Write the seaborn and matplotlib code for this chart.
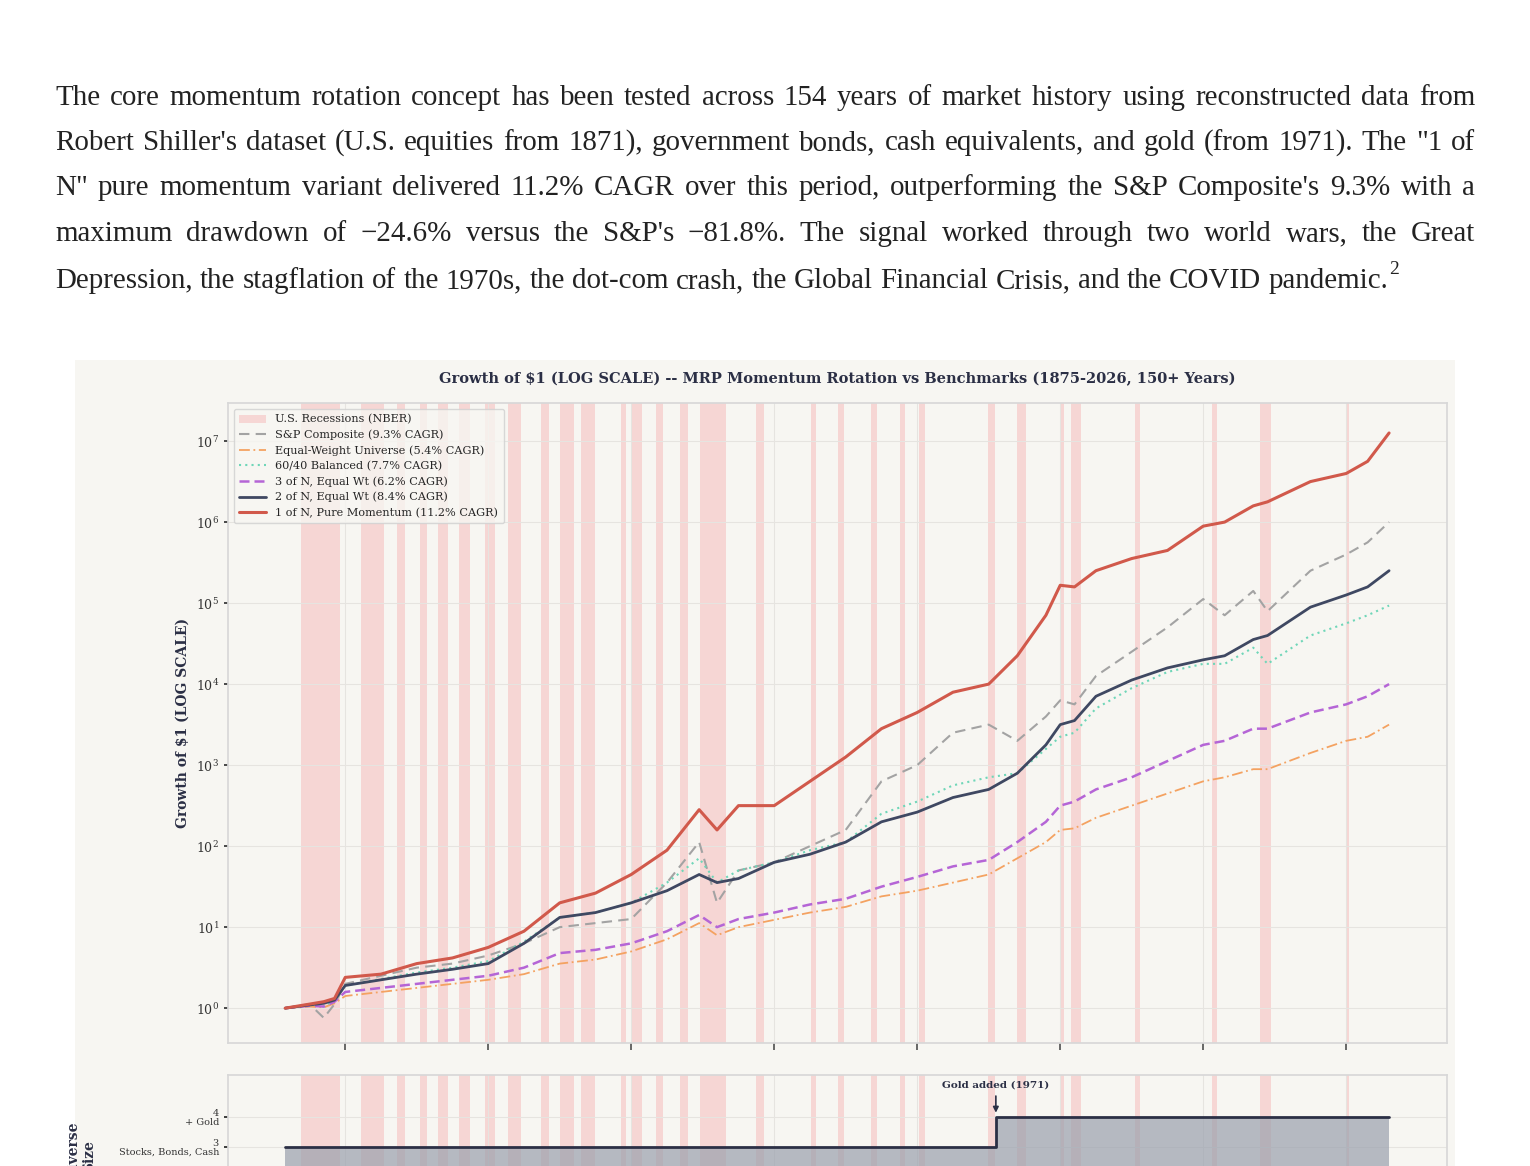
import numpy as np
import pandas as pd
import matplotlib
matplotlib.use('Agg')
import matplotlib.pyplot as plt
import seaborn as sns

# ── paragraph text ──
para_lines = [
    "The core momentum rotation concept has been tested across 154 years of market history using reconstructed data from",
    "Robert Shiller's dataset (U.S. equities from 1871), government bonds, cash equivalents, and gold (from 1971). The \"1 of",
    "N\" pure momentum variant delivered 11.2% CAGR over this period, outperforming the S&P Composite's 9.3% with a",
    "maximum drawdown of \u221224.6% versus the S&P's \u221281.8%. The signal worked through two world wars, the Great",
    "Depression, the stagflation of the 1970s, the dot-com crash, the Global Financial Crisis, and the COVID pandemic.",
]

# ── recessions (NBER, start/end year) ──
rec_start = [1873.8, 1882.2, 1887.2, 1890.5, 1893.0, 1895.9, 1899.5, 1902.7, 1907.4, 1910.0,
             1913.0, 1918.6, 1920.0, 1923.4, 1926.8, 1929.6, 1937.4, 1945.1, 1948.9, 1953.5,
             1957.6, 1960.3, 1969.9, 1973.9, 1980.0, 1981.5, 1990.5, 2001.2, 2007.9, 2020.1]
rec_end = [1879.2, 1885.4, 1888.3, 1891.4, 1894.4, 1897.5, 1900.9, 1904.6, 1908.5, 1912.0,
           1914.9, 1919.2, 1921.5, 1924.5, 1927.9, 1933.2, 1938.5, 1945.8, 1949.8, 1954.4,
           1958.3, 1961.1, 1970.9, 1975.2, 1980.5, 1982.9, 1991.2, 2001.9, 2009.5, 2020.4]

# ── growth of $1, log10 values ──
yrs = [1871.6, 1875, 1877, 1878.5, 1880, 1885, 1890, 1895, 1900, 1905, 1910, 1915, 1920, 1925,
       1929.5, 1932, 1935, 1940, 1945, 1950, 1955, 1960, 1965, 1970, 1974, 1978, 1980, 1982,
       1985, 1990, 1995, 2000, 2003, 2007, 2009, 2015, 2020, 2023, 2026]
one_of_n = [0, 0.05, 0.08, 0.12, 0.38, 0.42, 0.55, 0.62, 0.75, 0.95, 1.30, 1.42, 1.65, 1.95,
            2.45, 2.20, 2.50, 2.50, 2.80, 3.10, 3.45, 3.65, 3.90, 4.00, 4.35, 4.85, 5.22, 5.20,
            5.40, 5.55, 5.65, 5.95, 6.00, 6.20, 6.25, 6.50, 6.60, 6.75, 7.10]
sp_comp = [0, 0.05, -0.12, 0.05, 0.30, 0.40, 0.50, 0.55, 0.65, 0.80, 1.00, 1.05, 1.10, 1.55,
           2.05, 1.30, 1.70, 1.80, 2.00, 2.20, 2.80, 3.00, 3.40, 3.50, 3.30, 3.60, 3.80, 3.75,
           4.10, 4.40, 4.70, 5.05, 4.85, 5.15, 4.90, 5.40, 5.60, 5.75, 6.00]
two_of_n = [0, 0.04, 0.06, 0.10, 0.28, 0.35, 0.42, 0.48, 0.55, 0.80, 1.12, 1.18, 1.30, 1.45,
            1.65, 1.55, 1.60, 1.80, 1.90, 2.05, 2.30, 2.42, 2.60, 2.70, 2.90, 3.25, 3.50, 3.55,
            3.85, 4.05, 4.20, 4.30, 4.35, 4.55, 4.60, 4.95, 5.10, 5.20, 5.40]
bal_6040 = [0, 0.04, 0.02, 0.10, 0.28, 0.36, 0.44, 0.50, 0.58, 0.82, 1.12, 1.18, 1.30, 1.55,
            1.85, 1.55, 1.70, 1.80, 1.95, 2.05, 2.40, 2.55, 2.75, 2.85, 2.90, 3.20, 3.35, 3.40,
            3.70, 3.95, 4.15, 4.25, 4.25, 4.45, 4.25, 4.60, 4.75, 4.85, 4.97]
three_of_n = [0, 0.03, 0.02, 0.08, 0.20, 0.25, 0.30, 0.35, 0.40, 0.50, 0.68, 0.72, 0.80, 0.95,
              1.15, 1.00, 1.10, 1.18, 1.28, 1.35, 1.50, 1.62, 1.75, 1.83, 2.05, 2.30, 2.50, 2.55,
              2.70, 2.85, 3.05, 3.25, 3.30, 3.45, 3.45, 3.65, 3.75, 3.85, 4.00]
eq_weight = [0, 0.02, 0.01, 0.06, 0.15, 0.20, 0.25, 0.30, 0.35, 0.42, 0.55, 0.60, 0.70, 0.85,
             1.05, 0.90, 1.00, 1.09, 1.18, 1.25, 1.38, 1.45, 1.55, 1.65, 1.85, 2.05, 2.20, 2.22,
             2.35, 2.50, 2.65, 2.80, 2.85, 2.95, 2.95, 3.15, 3.30, 3.35, 3.50]

# ── universe size ──
uni_years = [1871.6, 1971.0, 1971.0, 2026.0]
uni_size = [3, 3, 4, 4]

series = [
    ("S&P Composite (9.3% CAGR)", sp_comp, "#a3a3a3", (0, (5, 3)), 1.5),
    ("Equal-Weight Universe (5.4% CAGR)", eq_weight, "#f4a261", (0, (6, 2, 1, 2)), 1.3),
    ("60/40 Balanced (7.7% CAGR)", bal_6040, "#6fd6b8", (0, (1, 2)), 1.5),
    ("3 of N, Equal Wt (6.2% CAGR)", three_of_n, "#b565d6", (0, (4, 2)), 1.8),
    ("2 of N, Equal Wt (8.4% CAGR)", two_of_n, "#3f4862", "-", 2.0),
    ("1 of N, Pure Momentum (11.2% CAGR)", one_of_n, "#d1594b", "-", 2.2),
]

sns.set_theme(style="whitegrid")
plt.rcParams['font.family'] = ['DejaVu Serif']

W, H = 1530, 1166
fig = plt.figure(figsize=(W / 100, H / 100), dpi=100, facecolor="white")

# chart panel background
bg = plt.Rectangle((75 / W, 0), 1380 / W, (H - 360) / H, transform=fig.transFigure,
                   facecolor="#f7f6f2", edgecolor="none", zorder=-10)
fig.patches.append(bg)

# ── justified paragraph ──
renderer = fig.canvas.get_renderer()
x_left, x_right = 55, 1475
line_y = [98, 143, 188, 234, 281]
pfont = dict(family="Liberation Serif", fontsize=20.9, color="#222222")
probe_a = fig.text(0, 0, "a b", **pfont)
probe_b = fig.text(0, 0, "ab", **pfont)
space = probe_a.get_window_extent(renderer).width - probe_b.get_window_extent(renderer).width
probe_a.remove()
probe_b.remove()
for i, (line, y) in enumerate(zip(para_lines, line_y)):
    words = line.split(" ")
    texts = [fig.text(0, 1 - y / H, w, va="center", ha="left", **pfont) for w in words]
    widths = [t.get_window_extent(renderer).width for t in texts]
    last = i == len(para_lines) - 1
    gap = space if last else (x_right - x_left - sum(widths)) / (len(words) - 1)
    x = x_left
    for t, w in zip(texts, widths):
        t.set_x(x / W)
        x += w + gap
    if last:
        fig.text((x - gap + 1) / W, 1 - (y - 12) / H, "2", va="center", ha="left",
                 family="Liberation Serif", fontsize=14, color="#222222")

# ── main axes ──
ax = fig.add_axes([228 / W, (H - 1043) / H, 1219 / W, 640 / H])
ax2 = fig.add_axes([228 / W, (H - 1237) / H, 1219 / W, 162 / H], sharex=ax)
for a in (ax, ax2):
    a.set_facecolor("#f7f6f2")
    for s in a.spines.values():
        s.set_color("#d8d8d8")
    a.grid(True, color="#e6e4e0", linewidth=0.8)
    for k, (s0, s1) in enumerate(zip(rec_start, rec_end)):
        a.axvspan(s0, s1, color="#f6b8b8", alpha=0.5, lw=0,
                  label="U.S. Recessions (NBER)" if (k == 0 and a is ax) else None, zorder=0.5)

df = pd.DataFrame({"year": yrs})
for name, vals, col, ls, lw in series:
    df[name] = 10 ** np.array(vals, dtype=float)
    sns.lineplot(x=df["year"], y=df[name], ax=ax, color=col, linestyle=ls, linewidth=lw,
                 label=name, zorder=3)

ax.set_yscale("log")
ax.set_ylim(10 ** -0.43, 10 ** 7.47)
ax.set_xlim(1863.6, 2034.1)
ax.set_xticks(range(1880, 2021, 20))
ax.tick_params(axis="x", labelbottom=False, length=5, color="#555555", direction="out", bottom=True)
ax.tick_params(axis="y", labelsize=9, colors="#333333", left=True, length=3)
ax.set_xlabel("")
ax.set_ylabel("Growth of $1 (LOG SCALE)", fontsize=10, fontweight="bold", color="#2b2f45")
ax.set_title("Growth of $1 (LOG SCALE) -- MRP Momentum Rotation vs Benchmarks (1875-2026, 150+ Years)",
             fontsize=10.5, fontweight="bold", color="#2b2f45", pad=14)
leg = ax.legend(loc="upper left", fontsize=8.1, frameon=True, facecolor="#f7f6f2",
                edgecolor="#d0d0d0", handlelength=2.4, borderpad=0.5, labelspacing=0.45)
leg.set_zorder(5)

# ── universe size panel ──
ax2.fill_between(uni_years, 0, uni_size, color="#9aa0ad", alpha=0.7, lw=0, zorder=2)
sns.lineplot(x=uni_years, y=uni_size, ax=ax2, color="#2b2f45", linewidth=2.0, sort=False,
             estimator=None, zorder=3, legend=False)
if ax2.get_legend() is not None:
    ax2.get_legend().remove()
ax2.set_ylim(0, 5.4)
ax2.set_yticks([3, 4])
ax2.set_yticklabels(["3\nStocks, Bonds, Cash", "4\n+ Gold"], fontsize=7, ha="right",
                    color="#333333", linespacing=1.0)
ax2.tick_params(axis="y", left=True, length=3)
ax2.tick_params(axis="x", labelbottom=False)
ax2.set_xlabel("")
ax2.set_ylabel("Universe\nSize", fontsize=10, fontweight="bold", color="#2b2f45")
ax2.yaxis.set_label_coords(-0.108, 0.5)
ax2.annotate("Gold added (1971)", xy=(1971, 4.05), xytext=(1971, 5.05),
             ha="center", va="center", fontsize=7.5, fontweight="bold", color="#2b2f45",
             arrowprops=dict(arrowstyle="-|>", color="#2b2f45", lw=1.2, mutation_scale=8))

fig.savefig("out.png", dpi=100)
